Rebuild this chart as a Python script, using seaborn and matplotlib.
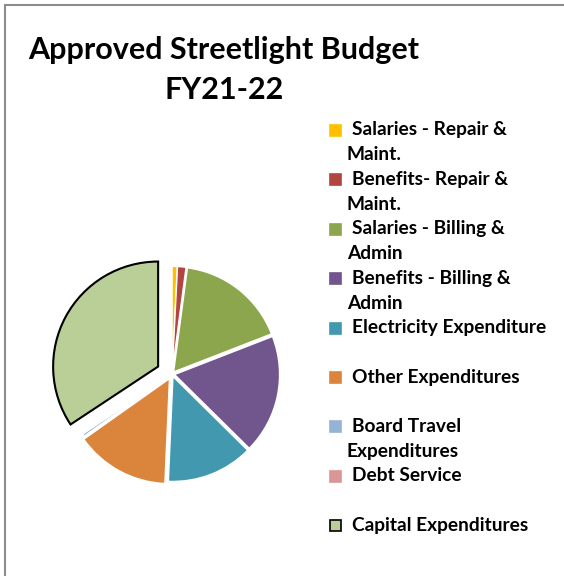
import matplotlib
matplotlib.use("Agg")
import matplotlib.pyplot as plt
import seaborn as sns
from matplotlib.lines import Line2D


# Datos del presupuesto (porcentajes estimados del grafico)
categorias = [
    "Salaries - Repair &\nMaint.",
    "Benefits- Repair &\nMaint.",
    "Salaries - Billing &\nAdmin",
    "Benefits - Billing &\nAdmin",
    "Electricity Expenditure",
    "Other Expenditures",
    "Board Travel\nExpenditures",
    "Debt Service",
    "Capital Expenditures",
]
valores = [0.8, 1.3, 17.0, 18.3, 13.3, 14.5, 0.4, 0.1, 34.3]
colores = ["#FFC000", "#B04542", "#8BA64C", "#70568C", "#4299AF",
           "#DB853C", "#95B3D7", "#D99694", "#BACE98"]
titulo = "Approved Streetlight Budget\nFY21-22"


def graficar(valores):
    sns.set_theme(style="white")
    plt.rcParams['font.family'] = ['Lato', 'DejaVu Sans']
    plt.rcParams['text.color'] = 'black'

    W, H = 564, 576
    fig = plt.figure(figsize=(W / 100, H / 100), dpi=100)
    fig.patch.set_facecolor("white")

    # marco gris (solo arriba e izquierda)
    fig.add_artist(Line2D([5 / W, 5 / W], [0, 1 - 5 / H], color="#8c8c8c", lw=1.5))
    fig.add_artist(Line2D([5 / W, 1], [1 - 5 / H, 1 - 5 / H], color="#8c8c8c", lw=1.5))

    # ejes del pastel
    cx, cy, r = 172, 374, 105
    lim = 1.3
    side = 2 * lim * r
    ax = fig.add_axes([(cx - side / 2) / W, 1 - (cy + side / 2) / H, side / W, side / H])
    explode = [0.025] * len(valores)
    explode[5] = 0.05
    explode[-1] = 0.15
    wedges, _ = ax.pie(valores, colors=colores, explode=explode,
                       startangle=90, counterclock=False,
                       wedgeprops=dict(edgecolor="white", linewidth=1.0))
    wedges[-1].set_edgecolor("black")
    wedges[-1].set_linewidth(1.5)
    ax.set_xlim(-lim, lim)
    ax.set_ylim(-lim, lim)
    ax.set_aspect("equal")
    ax.axis("off")

    # titulo
    lineas = titulo.split("\n")
    fig.text(224 / W, 1 - 50 / H, lineas[0], ha="center", va="center",
             fontsize=22, fontweight="bold")
    fig.text(224 / W, 1 - 90 / H, lineas[1], ha="center", va="center",
             fontsize=22, fontweight="bold")

    # leyenda manual
    y0, paso, linea = 130, 49.4, 25
    for i, (lab, col) in enumerate(zip(categorias, colores)):
        y = y0 + i * paso
        ec = "black" if i == len(categorias) - 1 else col
        fig.add_artist(plt.Rectangle((330 / W, 1 - (y + 6) / H), 11 / W, 11 / H,
                                     facecolor=col, edgecolor=ec, lw=1.2))
        partes = lab.split("\n")
        fig.text(352 / W, 1 - y / H, partes[0], ha="left", va="center",
                 fontsize=13.8, fontweight="bold")
        if len(partes) > 1:
            fig.text(347 / W, 1 - (y + linea) / H, partes[1], ha="left", va="center",
                     fontsize=13.8, fontweight="bold")

    fig.savefig("out.png", dpi=100, facecolor="white")


def main():
    graficar(valores)


if __name__ == '__main__':
    main()
